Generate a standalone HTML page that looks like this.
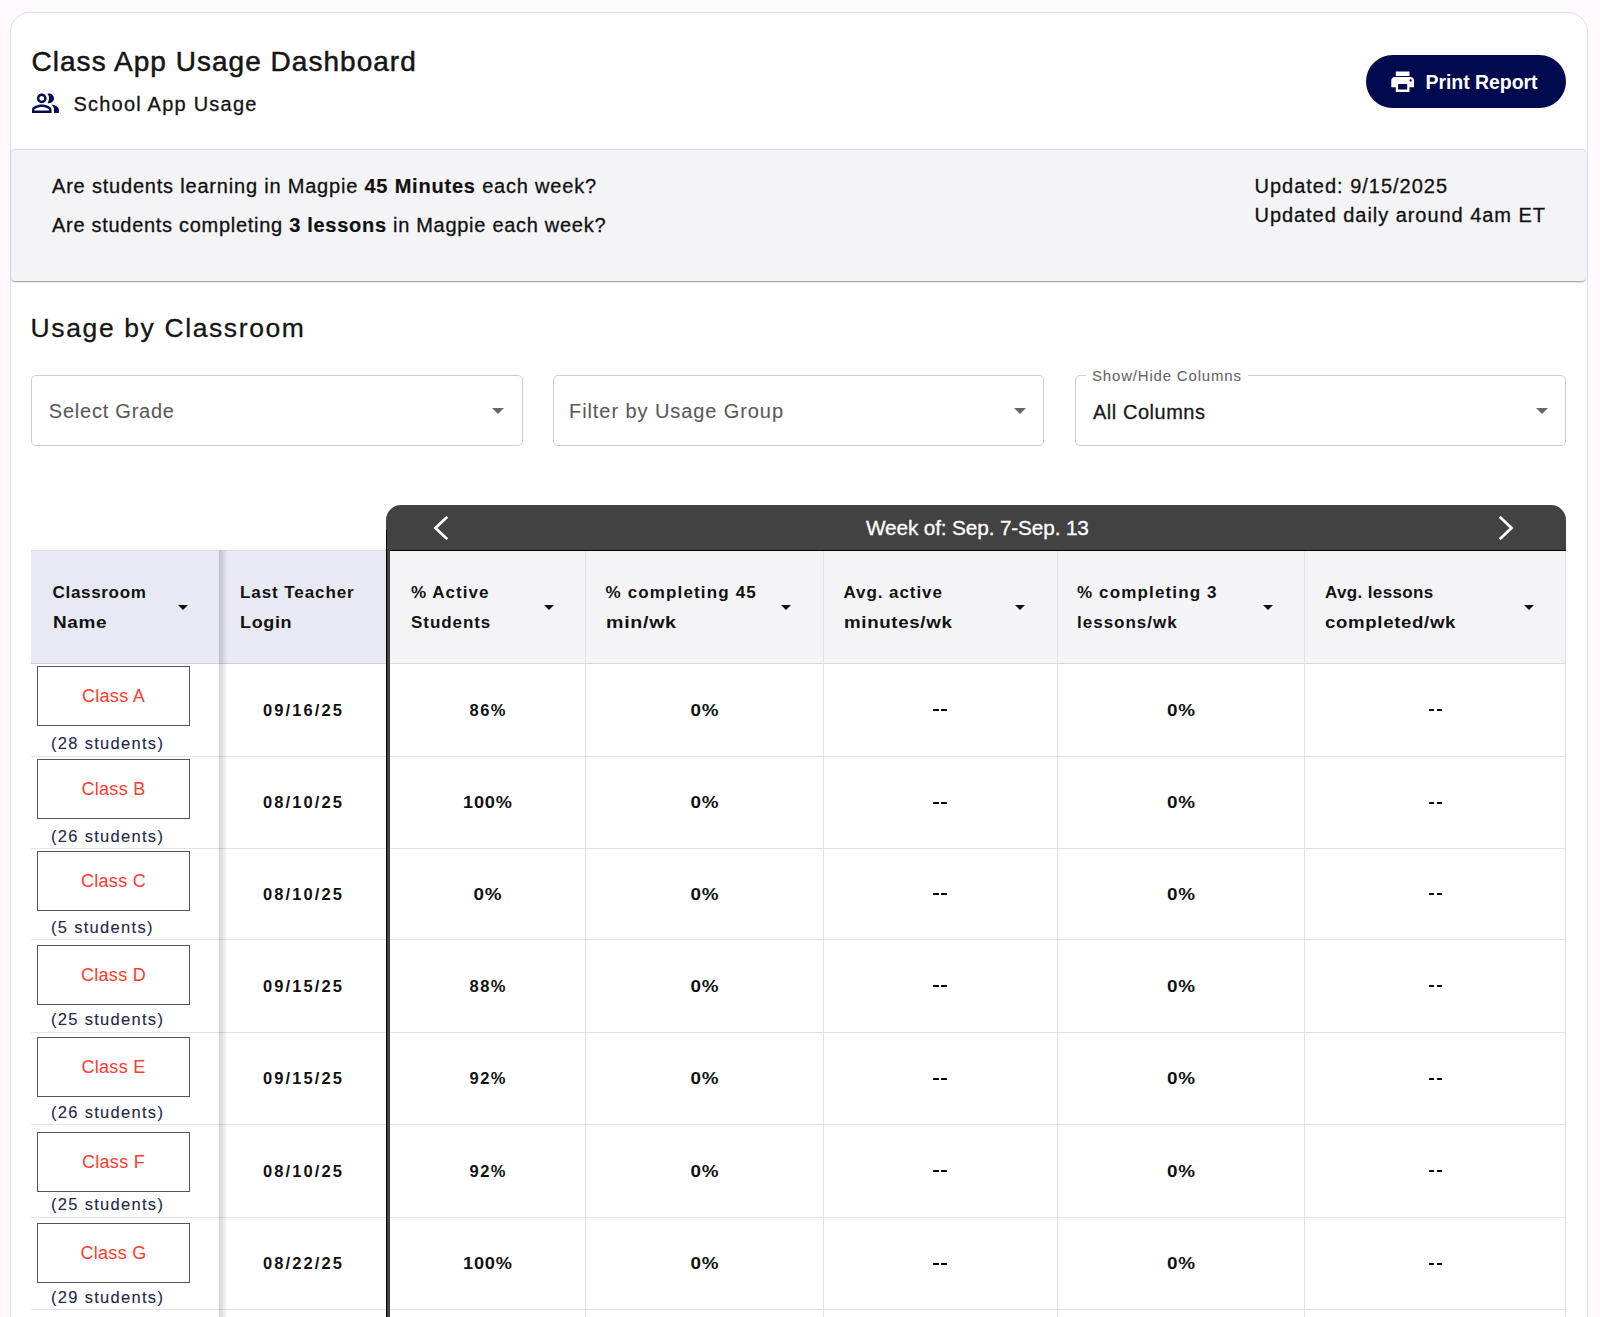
<!DOCTYPE html>
<html><head><meta charset="utf-8">
<style>
html,body{margin:0;padding:0;}
body{width:1600px;height:1317px;overflow:hidden;background:#fefafe;font-family:"Liberation Sans",sans-serif;color:#111;position:relative;}
.t{position:absolute;line-height:1;white-space:nowrap;-webkit-text-stroke:0.3px currentColor;}
.t b{-webkit-text-stroke:0.2px currentColor;}
.a{position:absolute;}
.card{position:absolute;left:10px;top:12px;width:1576px;height:1400px;border:1px solid #d9ddfd;border-radius:20px;background:#fff;}
.btn{position:absolute;left:1366px;top:55px;width:200px;height:53px;border-radius:27px;background:#020a4f;}
.info{position:absolute;left:11px;top:149px;width:1575px;height:131px;background:#f4f4f6;border-top:1px solid #d6d6dc;border-radius:4px;box-shadow:0 2px 1px -1px rgba(0,0,0,0.2),0 1px 1px 0 rgba(0,0,0,0.14),0 1px 3px 0 rgba(0,0,0,0.12);}
.sel{position:absolute;top:375px;width:489px;height:69px;border:1px solid #cecece;border-radius:5px;background:#fff;}
.arr{position:absolute;width:0;height:0;border-left:6px solid transparent;border-right:6px solid transparent;border-top:6px solid #666;}
.sarr{position:absolute;width:0;height:0;border-left:5px solid transparent;border-right:5px solid transparent;border-top:5px solid #111;}
</style></head><body>
<div class="card"></div>
<div class="t" style="left:31.5px;top:47.7px;font-size:28px;letter-spacing:1.03px;color:#151515;-webkit-text-stroke:0.5px #151515">Class App Usage Dashboard</div>
<svg class="a" style="left:28px;top:86px" width="36" height="32" viewBox="28 86 36 32"><g transform="translate(30.77,88.57) scale(1.221)"><path fill="#020a4f" d="M16.67 13.13C18.04 14.06 19 15.32 19 17v3h4v-3c0-2.18-3.57-3.47-6.33-3.87M15 12c2.21 0 4-1.79 4-4s-1.79-4-4-4c-.47 0-.91.1-1.33.24C14.5 5.27 15 6.58 15 8s-.5 2.73-1.33 3.76c.42.14.86.24 1.33.24m-6 0c2.21 0 4-1.79 4-4s-1.79-4-4-4-4 1.79-4 4 1.79 4 4 4m0-6c1.1 0 2 .9 2 2s-.9 2-2 2-2-.9-2-2 .9-2 2-2m0 7c-2.67 0-8 1.34-8 4v3h16v-3c0-2.66-5.33-4-8-4m6 5H3v-.99C3.2 16.29 6.3 15 9 15s5.8 1.29 6 2z"/></g></svg>
<div class="t" style="left:73.4px;top:94px;font-size:20px;letter-spacing:1.23px;color:#151515">School App Usage</div>
<div class="btn"></div>
<svg class="a" style="left:1389.1px;top:67.7px" width="27.3" height="27.3" viewBox="0 0 24 24"><path fill="#fff" d="M19 8H5c-1.66 0-3 1.34-3 3v6h4v4h12v-4h4v-6c0-1.66-1.34-3-3-3m-3 11H8v-5h8zm3-7c-.55 0-1-.45-1-1s.45-1 1-1 1 .45 1 1-.45 1-1 1m-1-9H6v4h12z"/></svg>
<div class="t" style="left:1425.5px;top:72.9px;font-size:19.5px;font-weight:bold;letter-spacing:-0.05px;color:#fff;-webkit-text-stroke:0">Print Report</div>
<div class="info"></div>
<div class="t" style="left:52px;top:175.6px;font-size:20px;letter-spacing:0.8px">Are students learning in Magpie <b>45 Minutes</b> each week?</div>
<div class="t" style="left:52px;top:215.4px;font-size:20px;letter-spacing:0.71px">Are students completing <b>3 lessons</b> in Magpie each week?</div>
<div class="t" style="left:1254.5px;top:176.3px;font-size:20px;letter-spacing:0.99px">Updated: 9/15/2025</div>
<div class="t" style="left:1254.5px;top:205.1px;font-size:20px;letter-spacing:0.95px">Updated daily around 4am ET</div>
<div class="t" style="left:30.6px;top:314.6px;font-size:26.5px;letter-spacing:1.61px;color:#151515">Usage by Classroom</div>
<div class="sel" style="left:31px;width:490px"></div>
<div class="sel" style="left:553px;width:489px"></div>
<div class="sel" style="left:1075px;width:489px"></div>
<div class="t" style="left:48.8px;top:401.4px;font-size:20px;letter-spacing:0.77px;color:#5a5a5a;-webkit-text-stroke:0.1px #5a5a5a">Select Grade</div>
<div class="t" style="left:569px;top:401.4px;font-size:20px;letter-spacing:0.92px;color:#5a5a5a;-webkit-text-stroke:0.1px #5a5a5a">Filter by Usage Group</div>
<div class="t" style="left:1086px;top:368px;font-size:15px;letter-spacing:0.815px;color:#666;background:#fff;padding:0 6px;-webkit-text-stroke:0.1px #666">Show/Hide Columns</div>
<div class="t" style="left:1093px;top:402px;font-size:20px;letter-spacing:0.53px;color:#1a1a1a">All Columns</div>
<div class="arr" style="left:492px;top:408px"></div>
<div class="arr" style="left:1014px;top:408px"></div>
<div class="arr" style="left:1536px;top:408px"></div>
<div class="a" style="left:31px;top:550px;width:355px;height:112px;background:#e8e9f2;border-top:1px solid #dddde2;border-bottom:1px solid #cfd0d8"></div>
<div class="a" style="left:390px;top:551px;width:1176px;height:112px;background:#f4f4f6;border-bottom:1px solid #d7d7dc"></div>
<div class="a" style="left:386px;top:505px;width:1180px;height:45px;background:#424242;border-radius:15px 15px 0 0"></div>
<div class="a" style="left:390px;top:550px;width:1176px;height:1px;background:#000"></div>
<div class="t" style="left:866px;top:517.9px;font-size:20.8px;letter-spacing:-0.15px;color:#fff">Week of: Sep. 7-Sep. 13</div>
<svg class="a" style="left:420px;top:505px" width="40" height="46" viewBox="420 505 40 46"><polyline points="447.3,516.8 435.5,528 447.3,539.2" fill="none" stroke="#fff" stroke-width="2.7" stroke-linejoin="miter"/></svg>
<svg class="a" style="left:1480px;top:505px" width="40" height="46" viewBox="1480 505 40 46"><polyline points="1499.7,516.8 1511.5,528 1499.7,539.2" fill="none" stroke="#fff" stroke-width="2.7" stroke-linejoin="miter"/></svg>
<div class="a" style="left:31px;top:664.40px;width:1535px;height:91.80px;border-bottom:1px solid #e3e3e6;background:#fff"></div>
<div class="a" style="left:37px;top:666.30px;width:151px;height:58px;border:1px solid #555;background:#fff"></div>
<div class="t" style="left:37px;width:153px;text-align:center;top:687.36px;font-size:18px;color:#ff3b30;letter-spacing:0.28px;-webkit-text-stroke:0">Class A</div>
<div class="t" style="left:51px;top:735.23px;font-size:16.5px;color:#23274a;letter-spacing:1.3px;-webkit-text-stroke:0.1px #23274a">(28 students)</div>
<div class="t" style="left:219px;width:167px;text-align:center;top:701.83px;font-size:16.5px;font-weight:bold;letter-spacing:2.08px;padding-left:1.04px;-webkit-text-stroke:0">09/16/25</div>
<div class="t" style="left:390px;width:195px;text-align:center;top:701.83px;font-size:16.5px;font-weight:bold;letter-spacing:1.4px;padding-left:0.7px;-webkit-text-stroke:0;transform:scaleX(1);transform-origin:50% 0">86%</div>
<div class="t" style="left:586px;width:237px;text-align:center;top:701.83px;font-size:16.5px;font-weight:bold;letter-spacing:0.7px;padding-left:0.35px;-webkit-text-stroke:0;transform:scaleX(1.143);transform-origin:50% 0">0%</div>
<div class="t" style="left:1058px;width:246px;text-align:center;top:701.83px;font-size:16.5px;font-weight:bold;letter-spacing:0.7px;padding-left:0.35px;-webkit-text-stroke:0;transform:scaleX(1.143);transform-origin:50% 0">0%</div>
<div class="a" style="left:933.10px;top:709.20px;width:5.5px;height:2.2px;background:#000;border-radius:0.5px"></div>
<div class="a" style="left:941.10px;top:709.20px;width:5.5px;height:2.2px;background:#000;border-radius:0.5px"></div>
<div class="a" style="left:1428.75px;top:709.20px;width:5.5px;height:2.2px;background:#000;border-radius:0.5px"></div>
<div class="a" style="left:1436.75px;top:709.20px;width:5.5px;height:2.2px;background:#000;border-radius:0.5px"></div>
<div class="a" style="left:31px;top:757.20px;width:1535px;height:91.00px;border-bottom:1px solid #e3e3e6;background:#fff"></div>
<div class="a" style="left:37px;top:759.30px;width:151px;height:58px;border:1px solid #555;background:#fff"></div>
<div class="t" style="left:37px;width:153px;text-align:center;top:780.36px;font-size:18px;color:#ff3b30;letter-spacing:0.28px;-webkit-text-stroke:0">Class B</div>
<div class="t" style="left:51px;top:827.53px;font-size:16.5px;color:#23274a;letter-spacing:1.3px;-webkit-text-stroke:0.1px #23274a">(26 students)</div>
<div class="t" style="left:219px;width:167px;text-align:center;top:794.23px;font-size:16.5px;font-weight:bold;letter-spacing:2.08px;padding-left:1.04px;-webkit-text-stroke:0">08/10/25</div>
<div class="t" style="left:390px;width:195px;text-align:center;top:794.23px;font-size:16.5px;font-weight:bold;letter-spacing:0.7px;padding-left:0.35px;-webkit-text-stroke:0;transform:scaleX(1.1);transform-origin:50% 0">100%</div>
<div class="t" style="left:586px;width:237px;text-align:center;top:794.23px;font-size:16.5px;font-weight:bold;letter-spacing:0.7px;padding-left:0.35px;-webkit-text-stroke:0;transform:scaleX(1.143);transform-origin:50% 0">0%</div>
<div class="t" style="left:1058px;width:246px;text-align:center;top:794.23px;font-size:16.5px;font-weight:bold;letter-spacing:0.7px;padding-left:0.35px;-webkit-text-stroke:0;transform:scaleX(1.143);transform-origin:50% 0">0%</div>
<div class="a" style="left:933.10px;top:801.60px;width:5.5px;height:2.2px;background:#000;border-radius:0.5px"></div>
<div class="a" style="left:941.10px;top:801.60px;width:5.5px;height:2.2px;background:#000;border-radius:0.5px"></div>
<div class="a" style="left:1428.75px;top:801.60px;width:5.5px;height:2.2px;background:#000;border-radius:0.5px"></div>
<div class="a" style="left:1436.75px;top:801.60px;width:5.5px;height:2.2px;background:#000;border-radius:0.5px"></div>
<div class="a" style="left:31px;top:849.20px;width:1535px;height:90.00px;border-bottom:1px solid #e3e3e6;background:#fff"></div>
<div class="a" style="left:37px;top:850.90px;width:151px;height:58px;border:1px solid #555;background:#fff"></div>
<div class="t" style="left:37px;width:153px;text-align:center;top:871.96px;font-size:18px;color:#ff3b30;letter-spacing:0.28px;-webkit-text-stroke:0">Class C</div>
<div class="t" style="left:51px;top:918.63px;font-size:16.5px;color:#23274a;letter-spacing:1.3px;-webkit-text-stroke:0.1px #23274a">(5 students)</div>
<div class="t" style="left:219px;width:167px;text-align:center;top:885.73px;font-size:16.5px;font-weight:bold;letter-spacing:2.08px;padding-left:1.04px;-webkit-text-stroke:0">08/10/25</div>
<div class="t" style="left:390px;width:195px;text-align:center;top:885.73px;font-size:16.5px;font-weight:bold;letter-spacing:0.7px;padding-left:0.35px;-webkit-text-stroke:0;transform:scaleX(1.143);transform-origin:50% 0">0%</div>
<div class="t" style="left:586px;width:237px;text-align:center;top:885.73px;font-size:16.5px;font-weight:bold;letter-spacing:0.7px;padding-left:0.35px;-webkit-text-stroke:0;transform:scaleX(1.143);transform-origin:50% 0">0%</div>
<div class="t" style="left:1058px;width:246px;text-align:center;top:885.73px;font-size:16.5px;font-weight:bold;letter-spacing:0.7px;padding-left:0.35px;-webkit-text-stroke:0;transform:scaleX(1.143);transform-origin:50% 0">0%</div>
<div class="a" style="left:933.10px;top:893.10px;width:5.5px;height:2.2px;background:#000;border-radius:0.5px"></div>
<div class="a" style="left:941.10px;top:893.10px;width:5.5px;height:2.2px;background:#000;border-radius:0.5px"></div>
<div class="a" style="left:1428.75px;top:893.10px;width:5.5px;height:2.2px;background:#000;border-radius:0.5px"></div>
<div class="a" style="left:1436.75px;top:893.10px;width:5.5px;height:2.2px;background:#000;border-radius:0.5px"></div>
<div class="a" style="left:31px;top:940.20px;width:1535px;height:92.10px;border-bottom:1px solid #e3e3e6;background:#fff"></div>
<div class="a" style="left:37px;top:945.20px;width:151px;height:58px;border:1px solid #555;background:#fff"></div>
<div class="t" style="left:37px;width:153px;text-align:center;top:966.26px;font-size:18px;color:#ff3b30;letter-spacing:0.28px;-webkit-text-stroke:0">Class D</div>
<div class="t" style="left:51px;top:1011.23px;font-size:16.5px;color:#23274a;letter-spacing:1.3px;-webkit-text-stroke:0.1px #23274a">(25 students)</div>
<div class="t" style="left:219px;width:167px;text-align:center;top:977.78px;font-size:16.5px;font-weight:bold;letter-spacing:2.08px;padding-left:1.04px;-webkit-text-stroke:0">09/15/25</div>
<div class="t" style="left:390px;width:195px;text-align:center;top:977.78px;font-size:16.5px;font-weight:bold;letter-spacing:1.4px;padding-left:0.7px;-webkit-text-stroke:0;transform:scaleX(1);transform-origin:50% 0">88%</div>
<div class="t" style="left:586px;width:237px;text-align:center;top:977.78px;font-size:16.5px;font-weight:bold;letter-spacing:0.7px;padding-left:0.35px;-webkit-text-stroke:0;transform:scaleX(1.143);transform-origin:50% 0">0%</div>
<div class="t" style="left:1058px;width:246px;text-align:center;top:977.78px;font-size:16.5px;font-weight:bold;letter-spacing:0.7px;padding-left:0.35px;-webkit-text-stroke:0;transform:scaleX(1.143);transform-origin:50% 0">0%</div>
<div class="a" style="left:933.10px;top:985.15px;width:5.5px;height:2.2px;background:#000;border-radius:0.5px"></div>
<div class="a" style="left:941.10px;top:985.15px;width:5.5px;height:2.2px;background:#000;border-radius:0.5px"></div>
<div class="a" style="left:1428.75px;top:985.15px;width:5.5px;height:2.2px;background:#000;border-radius:0.5px"></div>
<div class="a" style="left:1436.75px;top:985.15px;width:5.5px;height:2.2px;background:#000;border-radius:0.5px"></div>
<div class="a" style="left:31px;top:1033.30px;width:1535px;height:91.00px;border-bottom:1px solid #e3e3e6;background:#fff"></div>
<div class="a" style="left:37px;top:1036.50px;width:151px;height:58px;border:1px solid #555;background:#fff"></div>
<div class="t" style="left:37px;width:153px;text-align:center;top:1057.56px;font-size:18px;color:#ff3b30;letter-spacing:0.28px;-webkit-text-stroke:0">Class E</div>
<div class="t" style="left:51px;top:1103.73px;font-size:16.5px;color:#23274a;letter-spacing:1.3px;-webkit-text-stroke:0.1px #23274a">(26 students)</div>
<div class="t" style="left:219px;width:167px;text-align:center;top:1070.33px;font-size:16.5px;font-weight:bold;letter-spacing:2.08px;padding-left:1.04px;-webkit-text-stroke:0">09/15/25</div>
<div class="t" style="left:390px;width:195px;text-align:center;top:1070.33px;font-size:16.5px;font-weight:bold;letter-spacing:1.4px;padding-left:0.7px;-webkit-text-stroke:0;transform:scaleX(1);transform-origin:50% 0">92%</div>
<div class="t" style="left:586px;width:237px;text-align:center;top:1070.33px;font-size:16.5px;font-weight:bold;letter-spacing:0.7px;padding-left:0.35px;-webkit-text-stroke:0;transform:scaleX(1.143);transform-origin:50% 0">0%</div>
<div class="t" style="left:1058px;width:246px;text-align:center;top:1070.33px;font-size:16.5px;font-weight:bold;letter-spacing:0.7px;padding-left:0.35px;-webkit-text-stroke:0;transform:scaleX(1.143);transform-origin:50% 0">0%</div>
<div class="a" style="left:933.10px;top:1077.70px;width:5.5px;height:2.2px;background:#000;border-radius:0.5px"></div>
<div class="a" style="left:941.10px;top:1077.70px;width:5.5px;height:2.2px;background:#000;border-radius:0.5px"></div>
<div class="a" style="left:1428.75px;top:1077.70px;width:5.5px;height:2.2px;background:#000;border-radius:0.5px"></div>
<div class="a" style="left:1436.75px;top:1077.70px;width:5.5px;height:2.2px;background:#000;border-radius:0.5px"></div>
<div class="a" style="left:31px;top:1125.30px;width:1535px;height:92.20px;border-bottom:1px solid #e3e3e6;background:#fff"></div>
<div class="a" style="left:37px;top:1132.30px;width:151px;height:58px;border:1px solid #555;background:#fff"></div>
<div class="t" style="left:37px;width:153px;text-align:center;top:1153.36px;font-size:18px;color:#ff3b30;letter-spacing:0.28px;-webkit-text-stroke:0">Class F</div>
<div class="t" style="left:51px;top:1196.13px;font-size:16.5px;color:#23274a;letter-spacing:1.3px;-webkit-text-stroke:0.1px #23274a">(25 students)</div>
<div class="t" style="left:219px;width:167px;text-align:center;top:1162.93px;font-size:16.5px;font-weight:bold;letter-spacing:2.08px;padding-left:1.04px;-webkit-text-stroke:0">08/10/25</div>
<div class="t" style="left:390px;width:195px;text-align:center;top:1162.93px;font-size:16.5px;font-weight:bold;letter-spacing:1.4px;padding-left:0.7px;-webkit-text-stroke:0;transform:scaleX(1);transform-origin:50% 0">92%</div>
<div class="t" style="left:586px;width:237px;text-align:center;top:1162.93px;font-size:16.5px;font-weight:bold;letter-spacing:0.7px;padding-left:0.35px;-webkit-text-stroke:0;transform:scaleX(1.143);transform-origin:50% 0">0%</div>
<div class="t" style="left:1058px;width:246px;text-align:center;top:1162.93px;font-size:16.5px;font-weight:bold;letter-spacing:0.7px;padding-left:0.35px;-webkit-text-stroke:0;transform:scaleX(1.143);transform-origin:50% 0">0%</div>
<div class="a" style="left:933.10px;top:1170.30px;width:5.5px;height:2.2px;background:#000;border-radius:0.5px"></div>
<div class="a" style="left:941.10px;top:1170.30px;width:5.5px;height:2.2px;background:#000;border-radius:0.5px"></div>
<div class="a" style="left:1428.75px;top:1170.30px;width:5.5px;height:2.2px;background:#000;border-radius:0.5px"></div>
<div class="a" style="left:1436.75px;top:1170.30px;width:5.5px;height:2.2px;background:#000;border-radius:0.5px"></div>
<div class="a" style="left:31px;top:1218.50px;width:1535px;height:90.50px;border-bottom:1px solid #e3e3e6;background:#fff"></div>
<div class="a" style="left:37px;top:1222.80px;width:151px;height:58px;border:1px solid #555;background:#fff"></div>
<div class="t" style="left:37px;width:153px;text-align:center;top:1243.86px;font-size:18px;color:#ff3b30;letter-spacing:0.28px;-webkit-text-stroke:0">Class G</div>
<div class="t" style="left:51px;top:1289.33px;font-size:16.5px;color:#23274a;letter-spacing:1.3px;-webkit-text-stroke:0.1px #23274a">(29 students)</div>
<div class="t" style="left:219px;width:167px;text-align:center;top:1255.28px;font-size:16.5px;font-weight:bold;letter-spacing:2.08px;padding-left:1.04px;-webkit-text-stroke:0">08/22/25</div>
<div class="t" style="left:390px;width:195px;text-align:center;top:1255.28px;font-size:16.5px;font-weight:bold;letter-spacing:0.7px;padding-left:0.35px;-webkit-text-stroke:0;transform:scaleX(1.1);transform-origin:50% 0">100%</div>
<div class="t" style="left:586px;width:237px;text-align:center;top:1255.28px;font-size:16.5px;font-weight:bold;letter-spacing:0.7px;padding-left:0.35px;-webkit-text-stroke:0;transform:scaleX(1.143);transform-origin:50% 0">0%</div>
<div class="t" style="left:1058px;width:246px;text-align:center;top:1255.28px;font-size:16.5px;font-weight:bold;letter-spacing:0.7px;padding-left:0.35px;-webkit-text-stroke:0;transform:scaleX(1.143);transform-origin:50% 0">0%</div>
<div class="a" style="left:933.10px;top:1262.65px;width:5.5px;height:2.2px;background:#000;border-radius:0.5px"></div>
<div class="a" style="left:941.10px;top:1262.65px;width:5.5px;height:2.2px;background:#000;border-radius:0.5px"></div>
<div class="a" style="left:1428.75px;top:1262.65px;width:5.5px;height:2.2px;background:#000;border-radius:0.5px"></div>
<div class="a" style="left:1436.75px;top:1262.65px;width:5.5px;height:2.2px;background:#000;border-radius:0.5px"></div>
<div class="a" style="left:31px;top:1310.00px;width:1535px;height:91.00px;border-bottom:1px solid #e3e3e6;background:#fff"></div>
<div class="a" style="left:37px;top:1330.00px;width:151px;height:58px;border:1px solid #555;background:#fff"></div>
<div class="t" style="left:37px;width:153px;text-align:center;top:1351.06px;font-size:18px;color:#ff3b30;letter-spacing:0.28px;-webkit-text-stroke:0">Class H</div>
<div class="t" style="left:51px;top:1381.03px;font-size:16.5px;color:#23274a;letter-spacing:1.3px;-webkit-text-stroke:0.1px #23274a">(27 students)</div>
<div class="t" style="left:219px;width:167px;text-align:center;top:1347.03px;font-size:16.5px;font-weight:bold;letter-spacing:2.08px;padding-left:1.04px;-webkit-text-stroke:0">09/15/25</div>
<div class="t" style="left:390px;width:195px;text-align:center;top:1347.03px;font-size:16.5px;font-weight:bold;letter-spacing:1.4px;padding-left:0.7px;-webkit-text-stroke:0;transform:scaleX(1);transform-origin:50% 0">90%</div>
<div class="t" style="left:586px;width:237px;text-align:center;top:1347.03px;font-size:16.5px;font-weight:bold;letter-spacing:0.7px;padding-left:0.35px;-webkit-text-stroke:0;transform:scaleX(1.143);transform-origin:50% 0">0%</div>
<div class="t" style="left:1058px;width:246px;text-align:center;top:1347.03px;font-size:16.5px;font-weight:bold;letter-spacing:0.7px;padding-left:0.35px;-webkit-text-stroke:0;transform:scaleX(1.143);transform-origin:50% 0">0%</div>
<div class="a" style="left:933.10px;top:1354.40px;width:5.5px;height:2.2px;background:#000;border-radius:0.5px"></div>
<div class="a" style="left:941.10px;top:1354.40px;width:5.5px;height:2.2px;background:#000;border-radius:0.5px"></div>
<div class="a" style="left:1428.75px;top:1354.40px;width:5.5px;height:2.2px;background:#000;border-radius:0.5px"></div>
<div class="a" style="left:1436.75px;top:1354.40px;width:5.5px;height:2.2px;background:#000;border-radius:0.5px"></div>
<div class="a" style="left:585px;top:551px;width:1px;height:800px;background:#e3e3e6"></div>
<div class="a" style="left:823px;top:551px;width:1px;height:800px;background:#e3e3e6"></div>
<div class="a" style="left:1057px;top:551px;width:1px;height:800px;background:#e3e3e6"></div>
<div class="a" style="left:1304px;top:551px;width:1px;height:800px;background:#e3e3e6"></div>
<div class="a" style="left:1565px;top:551px;width:1px;height:800px;background:#e3e3e6"></div>
<div class="a" style="left:219px;top:550px;width:9px;height:800px;background:linear-gradient(to right,rgba(0,0,0,0.17),rgba(0,0,0,0))"></div>
<div class="a" style="left:386px;top:530px;width:3px;height:800px;background:#424242;border-left:1px solid #000"></div>
<div class="t" style="left:52.5px;top:583.6px;font-size:17px;font-weight:bold;letter-spacing:0.69px;color:#111;-webkit-text-stroke:0">Classroom</div>
<div class="t" style="left:52.5px;top:613.6px;font-size:17px;font-weight:bold;letter-spacing:0.6px;color:#111;-webkit-text-stroke:0;transform:scaleX(1.114);transform-origin:0 0">Name</div>
<div class="sarr" style="left:178px;top:605px"></div>
<div class="t" style="left:240px;top:583.6px;font-size:17px;font-weight:bold;letter-spacing:0.92px;color:#111;-webkit-text-stroke:0">Last Teacher</div>
<div class="t" style="left:240px;top:613.6px;font-size:17px;font-weight:bold;letter-spacing:0.6px;color:#111;-webkit-text-stroke:0;transform:scaleX(1.06);transform-origin:0 0">Login</div>
<div class="t" style="left:411px;top:583.6px;font-size:17px;font-weight:bold;letter-spacing:1.04px;color:#111;-webkit-text-stroke:0">% Active</div>
<div class="t" style="left:411px;top:613.6px;font-size:17px;font-weight:bold;letter-spacing:0.94px;color:#111;-webkit-text-stroke:0">Students</div>
<div class="sarr" style="left:544px;top:605px"></div>
<div class="t" style="left:605.5px;top:583.6px;font-size:17px;font-weight:bold;letter-spacing:1.15px;color:#111;-webkit-text-stroke:0">% completing 45</div>
<div class="t" style="left:605.5px;top:613.6px;font-size:17px;font-weight:bold;letter-spacing:0.6px;color:#111;-webkit-text-stroke:0;transform:scaleX(1.155);transform-origin:0 0">min/wk</div>
<div class="sarr" style="left:781px;top:605px"></div>
<div class="t" style="left:843.5px;top:583.6px;font-size:17px;font-weight:bold;letter-spacing:0.93px;color:#111;-webkit-text-stroke:0">Avg. active</div>
<div class="t" style="left:843.5px;top:613.6px;font-size:17px;font-weight:bold;letter-spacing:0.6px;color:#111;-webkit-text-stroke:0;transform:scaleX(1.1);transform-origin:0 0">minutes/wk</div>
<div class="sarr" style="left:1015px;top:605px"></div>
<div class="t" style="left:1077px;top:583.6px;font-size:17px;font-weight:bold;letter-spacing:1.14px;color:#111;-webkit-text-stroke:0">% completing 3</div>
<div class="t" style="left:1077px;top:613.6px;font-size:17px;font-weight:bold;letter-spacing:1.0px;color:#111;-webkit-text-stroke:0">lessons/wk</div>
<div class="sarr" style="left:1263px;top:605px"></div>
<div class="t" style="left:1325px;top:583.6px;font-size:17px;font-weight:bold;letter-spacing:0.37px;color:#111;-webkit-text-stroke:0">Avg. lessons</div>
<div class="t" style="left:1325px;top:613.6px;font-size:17px;font-weight:bold;letter-spacing:0.6px;color:#111;-webkit-text-stroke:0;transform:scaleX(1.096);transform-origin:0 0">completed/wk</div>
<div class="sarr" style="left:1524px;top:605px"></div>
</body></html>
